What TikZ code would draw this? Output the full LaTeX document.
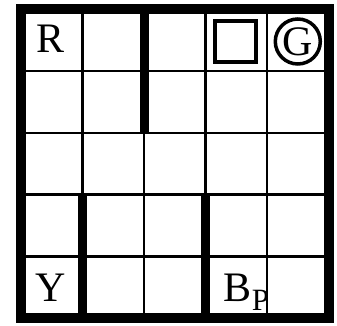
\documentclass[tikz,border=0pt]{standalone}
\usepackage{fontspec}
\setmainfont{Liberation Serif}
\begin{document}
\begin{tikzpicture}[x=1pt,y=1pt,
  gridline/.style={line width=2.5pt,black},
  border/.style={line width=10pt,black},
  wall/.style={line width=9pt,black},
  bigtext/.style={inner sep=0pt,font=\fontsize{42}{42}\selectfont},
  subtext/.style={inner sep=0pt,font=\fontsize{31}{31}\selectfont},
  markbox/.style={draw,line width=4pt,minimum size=41pt,inner sep=0pt},
  markcircle/.style={draw,circle,line width=3.5pt,minimum size=45pt,inner sep=0pt}]
\useasboundingbox (0,0) rectangle (337,326);
\fill[white] (0,0) rectangle (337,326);
% thin grid
\foreach \i in {1,...,4} {
  \draw[gridline] ({21+61.5*\i},7.5) -- ({21+61.5*\i},316.5);
  \draw[gridline] (21,{316.5-61.7*\i}) -- (328.5,{316.5-61.7*\i});
}
% thick walls
\draw[wall] (144,316.5) -- (144,{316.5-61.7*2});
\draw[wall] (82.5,{316.5-61.7*3}) -- (82.5,7.5);
\draw[wall] (205.5,{316.5-61.7*3}) -- (205.5,7.5);
% outer border
\draw[border] (21,7.5) rectangle (328.5,316.5);
% marks
\node[markbox] (sq) at (235.8,284.8) {};
\node[markcircle] (gc) at (297.8,284.5) {};
\node[bigtext] (G) at (297.8,284.5) {G};
% labels
\node[bigtext,anchor=base] (R) at (50.5,273) {R};
\node[bigtext,anchor=base] (Y) at (51,24.3) {Y};
\node[bigtext,anchor=base] (B) at (237.5,24.3) {B};
\node[subtext,anchor=base west] (P) at ([yshift=-9.3pt]B.base east) {P};
\end{tikzpicture}
\end{document}
